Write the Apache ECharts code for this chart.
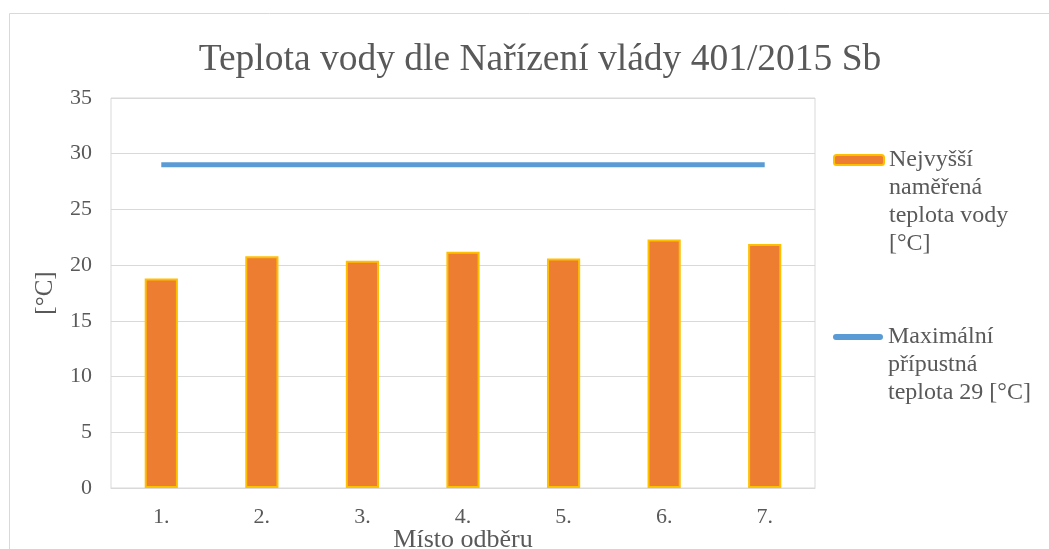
<!DOCTYPE html>
<html>
<head>
<meta charset="utf-8">
<script src="https://cdn.jsdelivr.net/npm/echarts@6/dist/echarts.min.js"></script>
<style>
  html, body { margin: 0; padding: 0; background: #fff; }
  #chart { width: 1049px; height: 549px; }
</style>
</head>
<body>
<div id="chart"></div>
<script>
const categories = ['1.', '2.', '3.', '4.', '5.', '6.', '7.'];
const measured = [18.8, 20.8, 20.4, 21.2, 20.6, 22.3, 21.9];
const limit = [29, 29, 29, 29, 29, 29, 29];
const yTicks = { min: 0, max: 35, interval: 5 };
const names = ['Nejvyšší naměřená teplota vody [°C]', 'Maximální přípustná teplota 29 [°C]'];
// blank lines on top keep the legend icon level with the first line of text
const wrapped = {
  [names[0]]: '\n\n\nNejvyšší\nnaměřená\nteplota vody\n[°C]',
  [names[1]]: '\n\nMaximální\npřípustná\nteplota 29 [°C]'
};

const font = '"Liberation Serif", "DejaVu Serif", serif';
const grey = '#595959';

const chart = echarts.init(document.getElementById('chart'));
const legendText = { fontFamily: font, fontSize: 24, color: grey, lineHeight: 28 };

chart.setOption({
  animation: false,
  title: {
    text: 'Teplota vody dle Nařízení vlády 401/2015 Sb',
    left: 535, top: 36, textAlign: 'center',
    textStyle: { fontFamily: font, fontSize: 37.5, fontWeight: 'normal', color: grey }
  },
  graphic: [{
    type: 'rect', silent: true, z: -1,
    shape: { x: 9.5, y: 13.5, width: 1100, height: 600 },
    style: { fill: 'none', stroke: '#d9d9d9', lineWidth: 1 }
  }],
  legend: [{
    data: [names[0]], orient: 'vertical', left: 833, top: 62, padding: 0,
    itemWidth: 50, itemHeight: 10, itemGap: 0,
    formatter: n => wrapped[n],
    textStyle: legendText
  }, {
    data: [names[1]], orient: 'vertical', left: 833, top: 267, padding: 0,
    itemWidth: 50, itemHeight: 10, itemGap: 0,
    icon: 'path://M3,2 L47,2 A3,3 0 0 1 47,8 L3,8 A3,3 0 0 1 3,2 Z',
    itemStyle: { color: '#5b9bd5' },
    formatter: n => wrapped[n],
    textStyle: legendText
  }],
  grid: {
    left: 111, right: 234, top: 98, bottom: 61,
    outerBoundsMode: 'none', containLabel: false,
    show: true, borderColor: '#d9d9d9', borderWidth: 1
  },
  xAxis: {
    type: 'category', data: categories,
    axisLine: { lineStyle: { color: '#d9d9d9', width: 1 } },
    axisTick: { show: false },
    axisLabel: { fontFamily: font, fontSize: 22, color: grey, margin: 18 },
    name: 'Místo odběru', nameLocation: 'middle', nameGap: 39, nameMoveOverlap: false,
    nameTextStyle: { fontFamily: font, fontSize: 26, color: grey }
  },
  yAxis: {
    type: 'value', min: yTicks.min, max: yTicks.max, interval: yTicks.interval,
    axisLine: { show: false },
    axisTick: { show: false },
    splitLine: { lineStyle: { color: '#d9d9d9', width: 1 } },
    axisLabel: { fontFamily: font, fontSize: 22, color: grey, margin: 19 },
    name: '[°C]', nameLocation: 'middle', nameGap: 53, nameRotate: 90, nameMoveOverlap: false,
    nameTextStyle: { fontFamily: font, fontSize: 25, color: grey }
  },
  series: [{
    name: names[0], type: 'bar', data: measured, barWidth: '33%',
    itemStyle: { color: '#ed7d31', borderColor: '#ffc000', borderWidth: 2 }
  }, {
    name: names[1], type: 'line', data: limit, symbol: 'none',
    lineStyle: { color: '#5b9bd5', width: 5 },
    itemStyle: { color: '#5b9bd5' }
  }]
});
</script>
</body>
</html>
